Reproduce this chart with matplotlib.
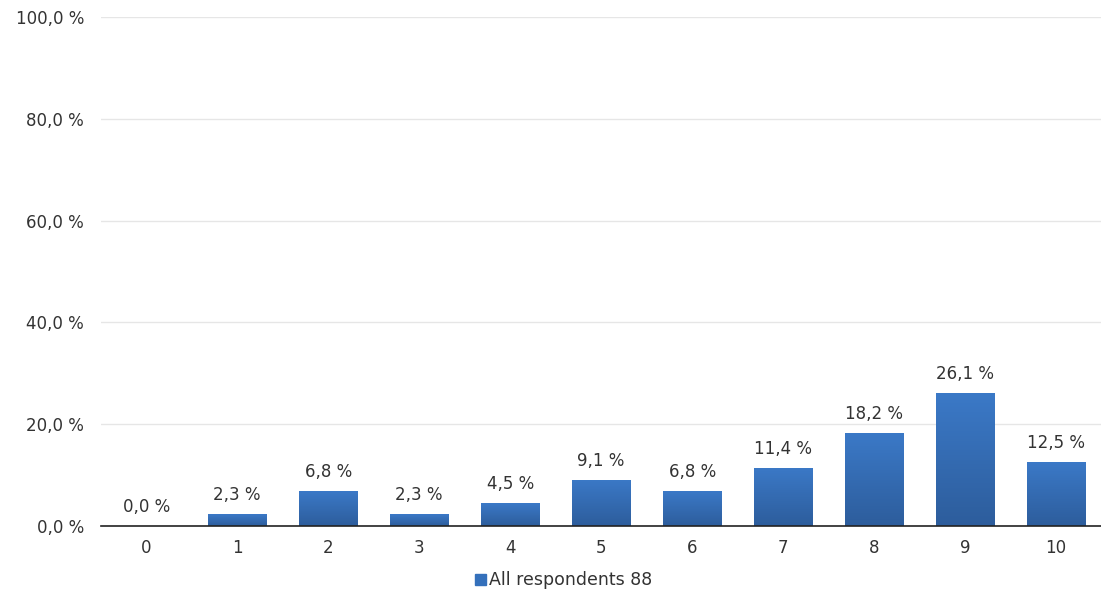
import numpy as np
import matplotlib.pyplot as plt
from matplotlib.colors import LinearSegmentedColormap

# scores 0..10 and share of respondents (%)
scores = ['0', '1', '2', '3', '4', '5', '6', '7', '8', '9', '10']
shares = [0.0, 2.3, 6.8, 2.3, 4.5, 9.1, 6.8, 11.4, 18.2, 26.1, 12.5]
series_name = 'All respondents 88'
y_ticks = [0, 20, 40, 60, 80, 100]

def pct(v):
    return f'{v:.1f} %'.replace('.', ',')

fig = plt.figure(figsize=(11.01, 5.91), dpi=100)
ax = fig.add_axes([0.0915, 0.110, 0.909, 0.861])

x = np.arange(len(scores))
bars = ax.bar(x, shares, width=0.64, color='none', zorder=2)

# vertical gradient fill for each bar
grad_cmap = LinearSegmentedColormap.from_list('bluegrad', ['#2d5d9c', '#3b79c7'])
grad = np.linspace(0, 1, 256).reshape(-1, 1)
for b in bars:
    h = b.get_height()
    if h <= 0:
        continue
    x0 = b.get_x()
    img = ax.imshow(grad, cmap=grad_cmap, aspect='auto', origin='lower',
                    extent=[x0, x0 + b.get_width(), 0, h], zorder=2)
    img.set_clip_path(b)

for xi, v in zip(x, shares):
    ax.text(xi, v + 2.0, pct(v), ha='center', va='bottom', fontsize=12,
            color='#333333')

ax.set_xlim(-0.5, len(scores) - 0.5)
ax.set_ylim(0, 100)
ax.set_yticks(y_ticks)
ax.set_yticklabels([pct(t) for t in y_ticks])
ax.set_xticks(x)
ax.set_xticklabels(scores)
ax.tick_params(axis='both', length=0, labelsize=12, labelcolor='#333333')
ax.tick_params(axis='y', pad=12)
ax.tick_params(axis='x', pad=9.5)
ax.yaxis.grid(True, color='#e6e6e6', linewidth=1, zorder=0)
ax.set_axisbelow(True)
for s in ['top', 'right', 'left']:
    ax.spines[s].set_visible(False)
ax.spines['bottom'].set_color('#222222')
ax.spines['bottom'].set_linewidth(1.2)

handle = plt.Rectangle((0, 0), 1, 1, color='#3470bb')
fig.legend([handle], [series_name], loc='center', bbox_to_anchor=(0.512, 0.018),
           frameon=False, fontsize=12.5, handlelength=0.6, handleheight=0.6,
           handletextpad=0.2, labelcolor='#333333')

fig.savefig('out.png', dpi=100)
